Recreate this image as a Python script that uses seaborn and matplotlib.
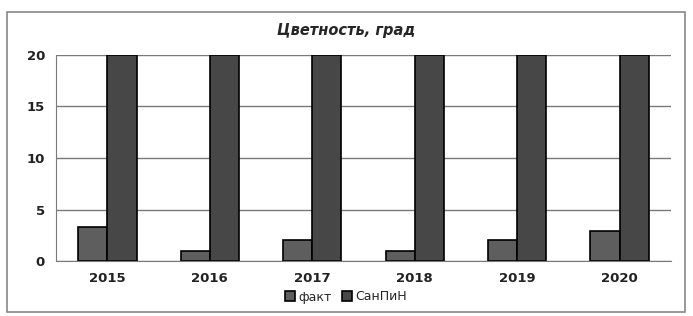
import matplotlib
matplotlib.use("Agg")
import matplotlib.pyplot as plt
import pandas as pd
import seaborn as sns
from matplotlib.patches import Rectangle

years = ["2015", "2016", "2017", "2018", "2019", "2020"]
fact = [3.3, 1.0, 2.0, 1.0, 2.0, 2.9]
sanpin = [20, 20, 20, 20, 20, 20]
series_names = ["факт", "СанПиН"]
yticks = [0, 5, 10, 15, 20]

df = pd.DataFrame({
    "year": years * 2,
    "value": fact + sanpin,
    "series": [series_names[0]] * len(years) + [series_names[1]] * len(years),
})

sns.set_style("white")
plt.rcParams["font.family"] = ["DejaVu Sans"]

fig = plt.figure(figsize=(6.93, 3.16), dpi=100)
ax = fig.add_axes([0.081, 0.174, 0.887, 0.652])

sns.barplot(data=df, x="year", y="value", hue="series", ax=ax,
            palette=["#5e5e5e", "#474747"], width=0.57,
            edgecolor="black", linewidth=1.2, legend=True)

ax.set_ylim(0, 20)
ax.set_yticks(yticks)
ax.yaxis.grid(True, color="#7a7a7a", linewidth=1.0)
ax.set_axisbelow(True)
for s in ["top", "right"]:
    ax.spines[s].set_visible(False)
ax.spines["left"].set_color("#7a7a7a")
ax.spines["bottom"].set_color("#7a7a7a")
ax.tick_params(axis="both", length=0, labelsize=9.5, pad=8)
for lbl in ax.get_xticklabels() + ax.get_yticklabels():
    lbl.set_fontweight("bold")
    lbl.set_color("#222222")
ax.set_xlabel("")
ax.set_ylabel("")

ax.legend(loc="center", ncol=2, frameon=False, fontsize=9,
          handlelength=0.8, handleheight=0.8,
          handletextpad=0.3, columnspacing=0.8)
leg = ax.get_legend()
leg.set_bbox_to_anchor((346 / 693, 1 - 297 / 316), transform=fig.transFigure)

fig.text(346 / 693, 1 - 30 / 316, "Цветность, град", ha="center", va="center",
         fontsize=10.5, fontweight="bold", fontstyle="italic")

fig.patches.append(Rectangle((7 / 693, 4 / 316), 678 / 693, 300 / 316,
                             transform=fig.transFigure, fill=False,
                             edgecolor="#888888", linewidth=1.2))

fig.savefig("out.png", dpi=100)
